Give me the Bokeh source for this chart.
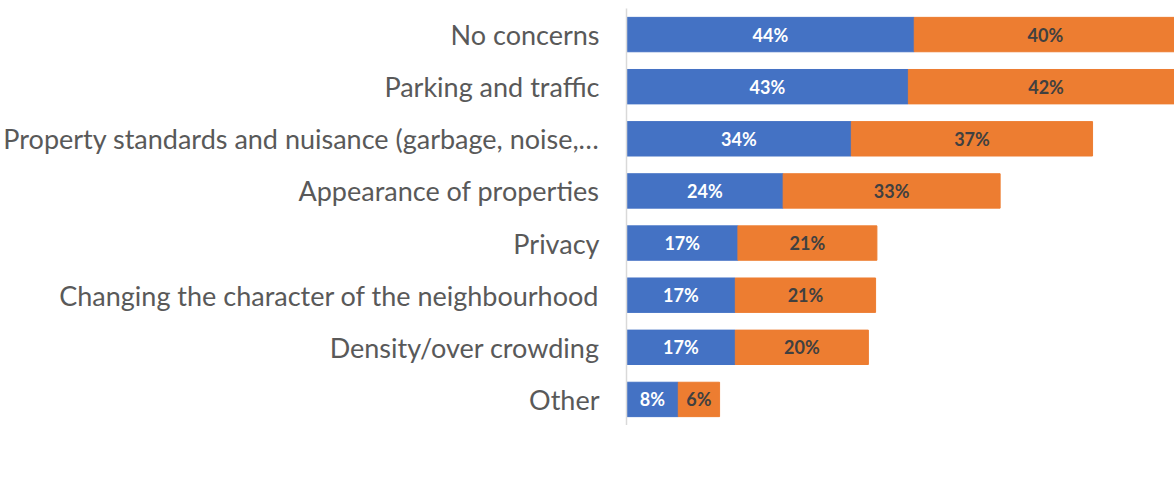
from bokeh.plotting import figure
from bokeh.layouts import column
from bokeh.models import Range1d, FactorRange, Legend, LegendItem, ColumnDataSource
from bokeh.core.properties import value
from bokeh.embed import file_html
from bokeh.resources import INLINE

categories = [
    "No concerns",
    "Parking and traffic",
    "Property standards and nuisance (garbage, noise,\u2026",
    "Appearance of properties",
    "Privacy",
    "Changing the character of the neighbourhood",
    "Density/over crowding",
    "Other",
]
secondary = [43.9, 43.0, 34.3, 23.9, 17.0, 16.6, 16.6, 7.9]
backyard = [40.0, 42.0, 36.8, 33.1, 21.2, 21.4, 20.3, 6.3]
series_names = ["Secondary Suites", "Backyard Suites"]

BLUE = "#4472C4"
ORANGE = "#ED7D31"
FONT = "Lato"
TEXT_GREY = "#595959"
LEFT = 624

totals = [s + b for s, b in zip(secondary, backyard)]
src = ColumnDataSource(dict(
    cat=categories,
    sec=secondary,
    tot=totals,
    sec_mid=[s / 2 for s in secondary],
    back_mid=[s + b / 2 for s, b in zip(secondary, backyard)],
    sec_lbl=[f"{round(s)}%" for s in secondary],
    back_lbl=[f"{round(b)}%" for b in backyard],
))

p = figure(
    width=1174, height=425,
    y_range=FactorRange(factors=list(reversed(categories))),
    x_range=Range1d(0, 83.6),
    output_backend="svg", toolbar_location=None,
    min_border_left=LEFT, min_border_right=0, min_border_top=8, min_border_bottom=0,
)
p.outline_line_color = None
p.grid.visible = False
p.xaxis.visible = False

p.hbar(y="cat", left=0, right="sec", height=0.66, color=BLUE, source=src)
p.hbar(y="cat", left="sec", right="tot", height=0.66, color=ORANGE, source=src)

p.text(x="sec_mid", y="cat", text="sec_lbl", source=src, text_align="center",
       text_baseline="middle", text_color="white", text_font=value(FONT),
       text_font_style="bold", text_font_size="18px")
p.text(x="back_mid", y="cat", text="back_lbl", source=src, text_align="center",
       text_baseline="middle", text_color="#404040", text_font=value(FONT),
       text_font_style="bold", text_font_size="18px")

ax = p.yaxis[0]
ax.major_tick_line_color = None
ax.minor_tick_line_color = None
ax.major_tick_out = 0
ax.major_tick_in = 0
ax.axis_line_color = "#D9D9D9"
ax.axis_line_width = 1.5
ax.major_label_text_font = FONT
ax.major_label_text_font_size = "27px"
ax.major_label_text_color = TEXT_GREY
ax.major_label_standoff = 27

# legend strip below the chart (same series, plotted outside its visible x range)
lf = figure(
    width=1174, height=66,
    x_range=Range1d(-2, -1), y_range=FactorRange(factors=list(reversed(categories))),
    output_backend="svg", toolbar_location=None,
    min_border_left=LEFT, min_border_right=0, min_border_top=0, min_border_bottom=30,
)
lf.outline_line_color = None
lf.grid.visible = False
lf.axis.visible = False
d1 = lf.hbar(y="cat", left=0, right="sec", height=0.66, color=BLUE, source=src)
d2 = lf.hbar(y="cat", left="sec", right="tot", height=0.66, color=ORANGE, source=src)

legend = Legend(
    items=[LegendItem(label=series_names[0], renderers=[d1]),
           LegendItem(label=series_names[1], renderers=[d2])],
    orientation="horizontal", location=(415 - LEFT, 0),
    label_text_font=FONT, label_text_font_size="27px", label_text_color=TEXT_GREY,
    glyph_width=17, glyph_height=17, label_standoff=8, spacing=47,
    padding=0, margin=0, border_line_color=None, background_fill_alpha=0,
)
lf.add_layout(legend, "below")

open("out.html", "w").write(file_html(column(p, lf, spacing=0), INLINE))
